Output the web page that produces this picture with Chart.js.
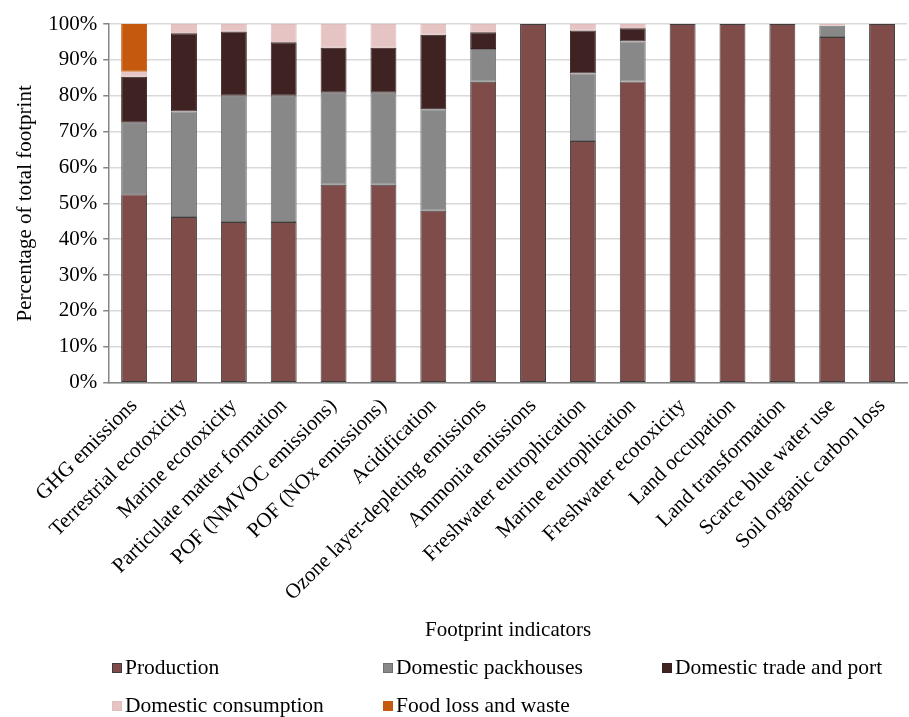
<!DOCTYPE html>
<html>
<head>
<meta charset="utf-8">
<script src="https://cdn.jsdelivr.net/npm/chart.js@4"></script>
<style>
    body { margin: 0; background: #fff; }
    #wrap { position: relative; width: 909px; height: 717px; }
    #legend { position: absolute; left: 0; top: 0; width: 909px; height: 717px; pointer-events: none;
        font-family: "Liberation Serif", serif; font-size: 21.5px; color: #000; }
    .item { position: absolute; display: flex; align-items: center; white-space: nowrap; }
    .box { width: 8px; height: 8px; margin-right: 3px; border: 1px solid; }
</style>
</head>
<body>
<div id="wrap">
    <canvas id="chart" width="909" height="717"></canvas>
    <div id="legend"></div>
</div>
<script>
var categories = [
    "GHG emissions", "Terrestrial ecotoxicity", "Marine ecotoxicity", "Particulate matter formation",
    "POF (NMVOC emissions)", "POF (NOx emissions)", "Acidification", "Ozone layer-depleting emissions",
    "Ammonia emissions", "Freshwater eutrophication", "Marine eutrophication", "Freshwater ecotoxicity",
    "Land occupation", "Land transformation", "Scarce blue water use", "Soil organic carbon loss"
];
var production = [52.5, 46.2, 44.8, 44.8, 55.2, 55.2, 47.9, 83.9, 100, 67.4, 84.0, 100, 100, 100, 96.4, 100];
var packhouses = [20.0, 29.4, 35.2, 35.2, 25.6, 25.6, 28.3, 9.1, 0, 18.8, 11.1, 0, 0, 0, 3.1, 0];
var tradePort = [12.8, 21.8, 17.9, 14.9, 12.6, 12.6, 20.8, 4.7, 0, 12.0, 3.7, 0, 0, 0, 0, 0];
var consumption = [1.4, 2.6, 2.1, 5.1, 6.6, 6.6, 3.0, 2.3, 0, 1.8, 1.2, 0, 0, 0, 0.5, 0];
var lossWaste = [13.3, 0, 0, 0, 0, 0, 0, 0, 0, 0, 0, 0, 0, 0, 0, 0];
var yTicks = [0, 10, 20, 30, 40, 50, 60, 70, 80, 90, 100];

var series = [
    { label: "Production", data: production, color: "#7f4c4a", border: "#3d3d3d" },
    { label: "Domestic packhouses", data: packhouses, color: "#888888", border: "#707070" },
    { label: "Domestic trade and port", data: tradePort, color: "#3f2222", border: "#3a2020" },
    { label: "Domestic consumption", data: consumption, color: "#e6c4c4", border: "#e0bcbc" },
    { label: "Food loss and waste", data: lossWaste, color: "#c55a0f", border: "#c55a0f" }
];

var FONT = "'Liberation Serif', 'Times New Roman', serif";
var FS = 21;

new Chart(document.getElementById("chart"), {
    type: "bar",
    data: {
        labels: categories,
        datasets: series.map(function (s) {
            return {
                label: s.label,
                data: s.data,
                backgroundColor: s.color,
                borderColor: s.border,
                borderWidth: function (ctx) { return ctx.raw ? 1 : 0; },
                borderSkipped: false,
                categoryPercentage: 1,
                barPercentage: 0.52
            };
        })
    },
    options: {
        responsive: false,
        animation: false,
        layout: { padding: { top: 24, right: 2, bottom: 70, left: 9 } },
        plugins: { legend: { display: false }, tooltip: { enabled: false } },
        scales: {
            x: {
                stacked: true,
                grid: { display: false },
                border: { display: true, color: "#868686", width: 1.5 },
                ticks: { font: { family: FONT, size: FS }, color: "#000", minRotation: 45, maxRotation: 45, autoSkip: false, padding: 3 },
                title: { display: true, text: "Footprint indicators", font: { family: FONT, size: FS }, color: "#000", padding: { top: 9 } }
            },
            y: {
                stacked: true,
                min: 0,
                max: 100,
                afterBuildTicks: function (axis) { axis.ticks = yTicks.map(function (v) { return { value: v }; }); },
                grid: { color: "#d9d9d9", lineWidth: 1.5, tickColor: "#868686", tickLength: 6 },
                border: { display: true, color: "#868686", width: 1.5 },
                ticks: { font: { family: FONT, size: FS }, color: "#000", padding: 6, callback: function (v) { return v + "%"; } },
                title: { display: true, text: "Percentage of total footprint", font: { family: FONT, size: FS }, color: "#000", padding: { bottom: 4 } }
            }
        }
    }
});

// Legend laid out as in the original: three columns, two rows
var legendPos = [[112, 668], [383, 668], [662, 668], [112, 706], [383, 706]];
var legendEl = document.getElementById("legend");
series.forEach(function (s, i) {
    var item = document.createElement("div");
    item.className = "item";
    item.style.left = legendPos[i][0] + "px";
    item.style.top = (legendPos[i][1] - 13) + "px";
    var box = document.createElement("span");
    box.className = "box";
    box.style.background = s.color;
    box.style.borderColor = s.border;
    var txt = document.createElement("span");
    txt.innerText = s.label;
    item.appendChild(box);
    item.appendChild(txt);
    legendEl.appendChild(item);
});
</script>
</body>
</html>
